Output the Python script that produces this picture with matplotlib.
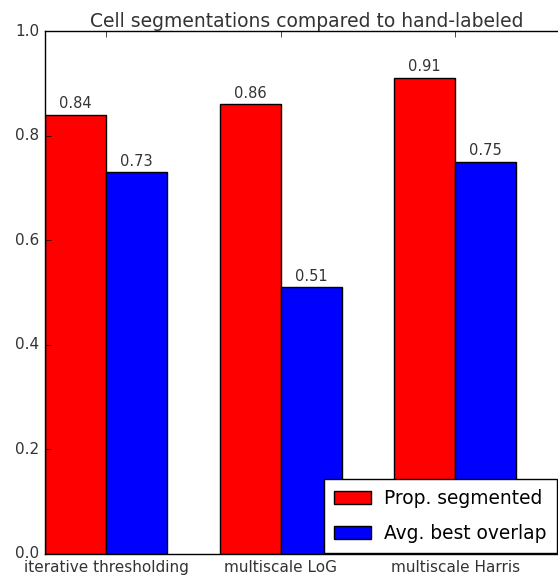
import numpy as np
import matplotlib
matplotlib.use('Agg')
from matplotlib import pyplot as plt

plt.style.use('classic')

methods = ['iterative thresholding', 'multiscale LoG', 'multiscale Harris']
prop_segmented = [0.84, 0.86, 0.91]
avg_overlap = [0.73, 0.51, 0.75]

index = np.arange(len(methods))
width = 0.35

fig = plt.figure(figsize=(5.58, 5.77), dpi=100, facecolor='white')
ax = fig.add_axes([45/558, 23/577, 523.5/558, 523/577])

bars1 = ax.bar(index, prop_segmented, width, color='r', align='edge',
               label='Prop. segmented')
bars2 = ax.bar(index + width, avg_overlap, width, color='b', align='edge',
               label='Avg. best overlap')

# value labels on top of each bar
for bars in (bars1, bars2):
    for b in bars:
        h = b.get_height()
        ax.text(b.get_x() + b.get_width() / 2, h + 0.007, '%.2f' % h,
                ha='center', va='bottom', fontsize=10.5, color='#333333')

ax.set_xlim(0, 3)
ax.set_ylim(0, 1.0)
ax.set_xticks(index + width)
ax.set_xticklabels(methods)
ax.tick_params(labelsize=11, labelcolor='#333333')
ax.set_title('Cell segmentations compared to hand-labeled', fontsize=13.5,
             color='#333333', pad=3)

ax.legend(loc='lower right', bbox_to_anchor=(557/558, 24/577),
          bbox_transform=fig.transFigure, borderaxespad=0, fontsize=13.4,
          handlelength=2.0, handletextpad=0.7, borderpad=0.55,
          labelspacing=0.85)

fig.savefig('out.png', dpi=100, facecolor='white')
